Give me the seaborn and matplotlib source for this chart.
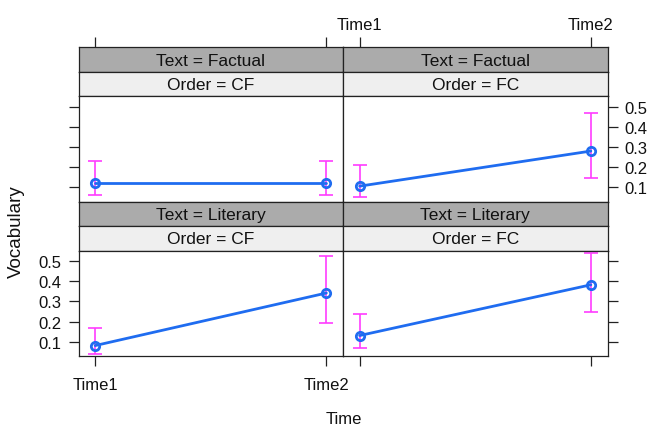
import pandas as pd
import matplotlib
matplotlib.use("Agg")
import matplotlib.pyplot as plt
import seaborn as sns

# ------------------------------------------
# Data
# ------------------------------------------
times = ["Time1", "Time2"]
texts = ["Factual", "Factual", "Literary", "Literary"]
orders = ["CF", "FC", "CF", "FC"]

fit_fact_cf = [0.120, 0.120]
lo_fact_cf = [0.060, 0.060]
hi_fact_cf = [0.232, 0.232]

fit_fact_fc = [0.105, 0.280]
lo_fact_fc = [0.050, 0.147]
hi_fact_fc = [0.210, 0.470]

fit_lit_cf = [0.080, 0.342]
lo_lit_cf = [0.036, 0.195]
hi_lit_cf = [0.170, 0.528]

fit_lit_fc = [0.130, 0.383]
lo_lit_fc = [0.070, 0.247]
hi_lit_fc = [0.237, 0.540]

y_ticks = [0.1, 0.2, 0.3, 0.4, 0.5]

fits = [fit_fact_cf, fit_fact_fc, fit_lit_cf, fit_lit_fc]
lows = [lo_fact_cf, lo_fact_fc, lo_lit_cf, lo_lit_fc]
highs = [hi_fact_cf, hi_fact_fc, hi_lit_cf, hi_lit_fc]

# ------------------------------------------
# Style
# ------------------------------------------
sns.set_theme(style="white")
plt.rcParams['font.family'] = ['Liberation Sans', 'DejaVu Sans']

BLUE = "#1f6cf0"
MAGENTA = "#ff3cff"
DARK_STRIP = "#ababab"
LIGHT_STRIP = "#efefef"

W, H = 648, 427
fig = plt.figure(figsize=(W / 100, H / 100), dpi=100)


def box(x0, y0, x1, y1):
    return [x0 / W, (H - y1) / H, (x1 - x0) / W, (y1 - y0) / H]


cols = [(78.5, 343), (343, 607.5)]
row_tops = [48.3, 202.7]
strip_h = 24.5
panel_h = 105.5
XLIM = (-0.072, 1.072)
YLIM = (0.027, 0.553)

tick_kw = dict(length=7, width=0.9, color="#222222", labelsize=12,
               labelcolor="#111111")

for i in range(4):
    r, c = divmod(i, 2)
    x0, x1 = cols[c]
    top = row_tops[r]

    # strips
    s1 = fig.add_axes(box(x0, top, x1, top + strip_h))
    s2 = fig.add_axes(box(x0, top + strip_h, x1, top + 2 * strip_h))
    for s, col, txt in [(s1, DARK_STRIP, f"Text = {texts[i]}"),
                        (s2, LIGHT_STRIP, f"Order = {orders[i]}")]:
        s.set_facecolor(col)
        s.set_xlim(XLIM)
        s.set_yticks([])
        s.set_xticks([])
        s.text(0.5, 0.48, txt, transform=s.transAxes, ha="center",
               va="center", fontsize=12.5, color="#111111")
        for sp in s.spines.values():
            sp.set_color("#222222")
            sp.set_linewidth(0.9)

    # top row: x ticks above the strips
    if r == 0:
        s1.set_xticks([0, 1])
        s1.xaxis.tick_top()
        s1.tick_params(axis="x", pad=4, **tick_kw)
        if c == 1:
            s1.set_xticklabels(times)
        else:
            s1.set_xticklabels([])

    ax = fig.add_axes(box(x0, top + 2 * strip_h, x1, top + 2 * strip_h + panel_h))
    df = pd.DataFrame({"Time": [0, 1], "Vocabulary": fits[i]})

    ax.errorbar([0, 1], fits[i],
                yerr=[[f - l for f, l in zip(fits[i], lows[i])],
                      [h - f for f, h in zip(fits[i], highs[i])]],
                fmt="none", ecolor=MAGENTA, elinewidth=1.2, capsize=5,
                capthick=1.2, zorder=2)
    sns.lineplot(data=df, x="Time", y="Vocabulary", ax=ax, color=BLUE,
                 linewidth=2, marker="o", markersize=6,
                 markerfacecolor="none", markeredgecolor=BLUE,
                 markeredgewidth=2, zorder=3)

    ax.set_xlim(XLIM)
    ax.set_ylim(YLIM)
    ax.set_xlabel("")
    ax.set_ylabel("")
    ax.set_yticks(y_ticks)
    ax.set_xticks([0, 1])
    for sp in ax.spines.values():
        sp.set_color("#222222")
        sp.set_linewidth(0.9)

    # y axis: left column ticks on left, right column on right
    if c == 0:
        ax.yaxis.tick_left()
    else:
        ax.yaxis.tick_right()
    ax.tick_params(axis="y", pad=5, **tick_kw)
    ax.set_yticklabels([f"{v:.1f}" for v in y_ticks])
    if (r == 0 and c == 0) or (r == 1 and c == 1):
        ax.set_yticklabels([])

    # x axis: bottom row only
    if r == 1:
        ax.xaxis.tick_bottom()
        ax.tick_params(axis="x", pad=8, **tick_kw)
        if c == 0:
            ax.set_xticklabels(times)
        else:
            ax.set_xticklabels([])
    else:
        ax.tick_params(axis="x", bottom=False, labelbottom=False)

fig.text(344 / W, 1 - 420 / H, "Time", ha="center", va="center",
         fontsize=12, color="#111111")
fig.text(16 / W, 1 - 232 / H, "Vocabulary", ha="center", va="center",
         rotation=90, fontsize=13.5, color="#111111")

fig.savefig("out.png", dpi=100)
